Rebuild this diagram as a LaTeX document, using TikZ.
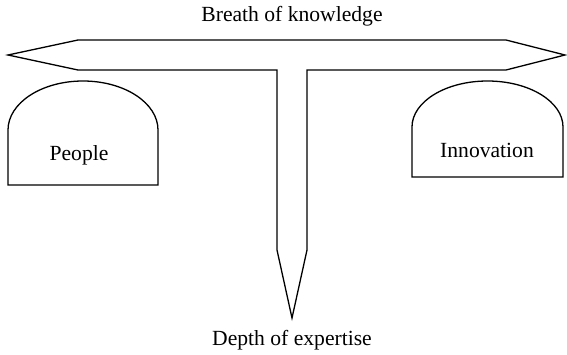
\documentclass[tikz,border=0pt]{standalone}
\usepackage{fontspec}
\setmainfont{Liberation Serif}
\usepackage{tikz}
\usetikzlibrary{positioning}
\newcommand*{\archbox}[5]{% left,right,bottom,springline,rise
		\draw[outline] (#1,#3) -- (#1,#4)
			arc[start angle=180, end angle=0, x radius={(#2-#1)/2}, y radius=#5]
			-- (#2,#3) -- cycle;
}
\tikzset{outline/.style={line width=1.3pt, line join=miter}}
\tikzset{caption/.style={font=\fontsize{21.6}{26}\selectfont, inner sep=0pt}}

\begin{document}
\begin{tikzpicture}[x=1pt,y=1pt]
		\useasboundingbox (0,0) rectangle (567,354);
		% the T: broad bar on top, deep spike below
		\draw[outline] (8,299) -- (78,314) -- (506,314) -- (565,299) -- (506,284)
			-- (307,284) -- (307,104) -- (292,36) -- (277,104) -- (277,284)
			-- (78,284) -- cycle;
		\archbox{8}{158}{169}{224}{49}
		\archbox{412}{563}{177}{227}{46}
		\node[caption] (people) at (79,199) {People};
		\node[caption] (innovation) at (487,204) {Innovation};
		\node[caption] (breadth) at (292,338) {Breath of knowledge};
		\node[caption] (depth) at (292,14) {Depth of expertise};
	\end{tikzpicture}
\end{document}
